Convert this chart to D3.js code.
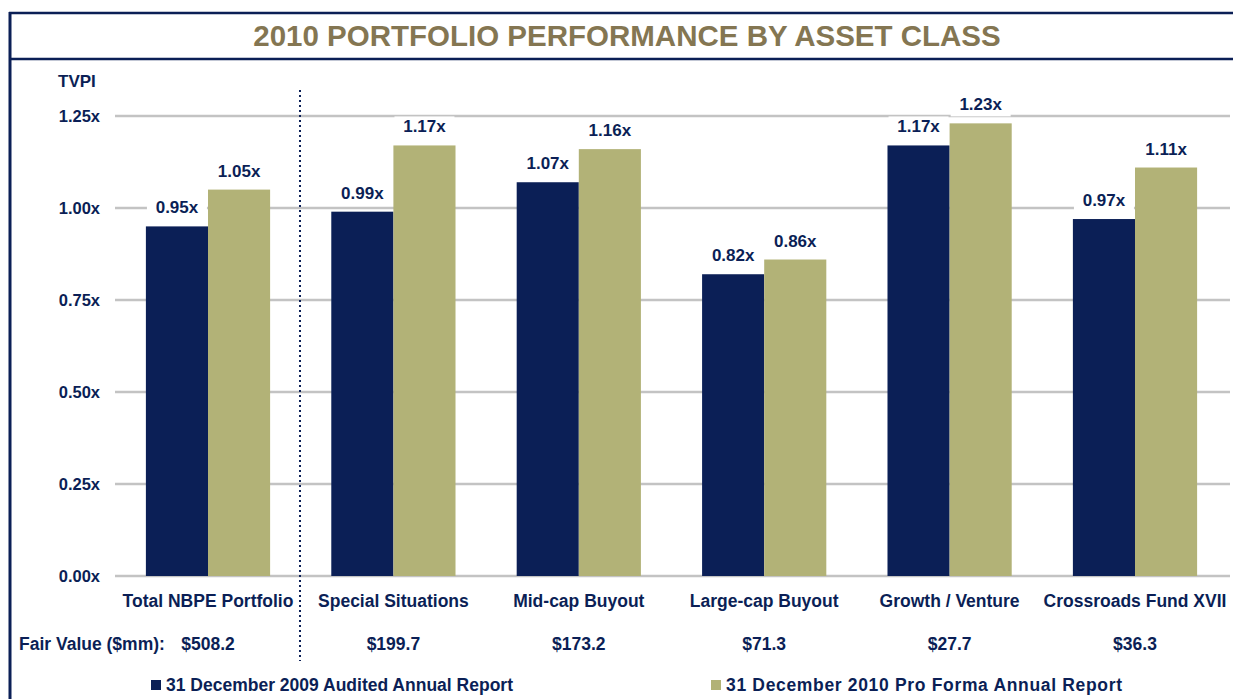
<!DOCTYPE html>
<html>
<head>
<meta charset="utf-8">
<script src="https://cdn.jsdelivr.net/npm/d3@7"></script>
<style>
  body { margin:0; background:#fff; }
  svg text { font-family: "Liberation Sans", Arial, sans-serif; font-weight:bold; }
</style>
</head>
<body>
<svg id="chart" width="1233" height="699"></svg>
<script>
// -- data
var categories = ["Total NBPE Portfolio","Special Situations","Mid-cap Buyout","Large-cap Buyout","Growth / Venture","Crossroads Fund XVII"];
var audited2009 = [0.95, 0.99, 1.07, 0.82, 1.17, 0.97];
var proForma2010 = [1.05, 1.17, 1.16, 0.86, 1.23, 1.11];
var fairValues = ["$508.2","$199.7","$173.2","$71.3","$27.7","$36.3"];
var seriesNames = ["31 December 2009 Audited Annual Report","31 December 2010 Pro Forma Annual Report"];
var yTicks = [0, 0.25, 0.5, 0.75, 1.0, 1.25];

var navy = "#0b1f56", khaki = "#b2b277", titleColor = "#847652", grid = "#c3c3c3";

var svg = d3.select("#chart");

// -- frame + title
svg.append("line").attr("x1",10).attr("x2",10).attr("y1",12).attr("y2",699).style("stroke",navy).style("stroke-width",3);
svg.append("line").attr("x1",9).attr("x2",1233).attr("y1",13).attr("y2",13).style("stroke",navy).style("stroke-width",2.5);
svg.append("line").attr("x1",9).attr("x2",1233).attr("y1",59).attr("y2",59).style("stroke",navy).style("stroke-width",2.5);
svg.append("text").attr("x",627).attr("y",46).attr("text-anchor","middle")
    .style("font-size","29.5px").style("fill",titleColor)
    .text("2010 PORTFOLIO PERFORMANCE BY ASSET CLASS");

// -- scales
var y = d3.scaleLinear().domain([0,1.25]).range([576,116]);
var x0 = d3.scaleBand().domain(categories).range([115.3,1227.7]).paddingInner(0.33).paddingOuter(0.165);
var x1 = d3.scaleBand().domain([0,1]).range([0,x0.bandwidth()]);

// -- gridlines + ticks
var yAxis = d3.axisLeft(y).tickValues(yTicks).tickSize(0).tickPadding(15)
    .tickFormat(function(d){return d3.format(".2f")(d)+"x";});
var gAxis = svg.append("g").attr("transform","translate(115,0)").call(yAxis);
gAxis.select(".domain").remove();
gAxis.selectAll("text").attr("font-family",null).attr("font-size",null)
    .style("font-size","16.5px").style("fill",navy);

svg.selectAll(".gridline").data(yTicks).enter().append("line").attr("class","gridline")
    .attr("x1",115).attr("x2",1230)
    .attr("y1",function(d){return y(d);}).attr("y2",function(d){return y(d);})
    .style("stroke",grid).style("stroke-width",2.5);

svg.append("text").attr("x",58).attr("y",87).style("font-size","17px").style("fill",navy).text("TVPI");

// -- divider
svg.append("line").attr("x1",300).attr("x2",300).attr("y1",90).attr("y2",661)
    .style("stroke",navy).style("stroke-width",2).style("stroke-dasharray","2,3");

// -- bars
var rows = categories.map(function(c,i){ return {cat:c, vals:[audited2009[i], proForma2010[i]]}; });
var groups = svg.selectAll(".grp").data(rows).enter().append("g").attr("class","grp")
    .attr("transform",function(d){return "translate("+x0(d.cat)+",0)";});

groups.selectAll("rect").data(function(d){return d.vals;}).enter().append("rect")
    .attr("x",function(d,i){return x1(i);})
    .attr("y",function(d){return y(d);})
    .attr("width",x1.bandwidth())
    .attr("height",function(d){return y(0)-y(d);})
    .style("fill",function(d,i){return i==0?navy:khaki;});

// value labels with white box behind
var lbl = groups.selectAll(".val").data(function(d){return d.vals;}).enter().append("g").attr("class","val")
    .attr("transform",function(d,i){return "translate("+(x1(i)+x1.bandwidth()/2)+","+(y(d)-13)+")";});
lbl.append("rect").attr("x",-30).attr("y",-16).attr("width",60).attr("height",22).style("fill","#fff");
lbl.append("text").attr("text-anchor","middle").style("font-size","17px").style("fill",navy)
    .text(function(d){return d3.format(".2f")(d)+"x";});

// -- category labels + fair values
svg.selectAll(".cat").data(categories).enter().append("text").attr("class","cat")
    .attr("x",function(d){return x0(d)+x0.bandwidth()/2;}).attr("y",607)
    .attr("text-anchor","middle").style("font-size","17.5px").style("fill",navy)
    .text(function(d){return d;});

svg.append("text").attr("x",19).attr("y",650).style("font-size","17.5px").style("fill",navy).text("Fair Value ($mm):");
svg.selectAll(".fv").data(fairValues).enter().append("text").attr("class","fv")
    .attr("x",function(d,i){return x0(categories[i])+x0.bandwidth()/2;}).attr("y",650)
    .attr("text-anchor","middle").style("font-size","17.5px").style("fill",navy)
    .text(function(d){return d;});

// -- legend
var legX = [151, 711];
var legW = [347, 396]; // second label is spread wider in the original
var leg = svg.selectAll(".leg").data(seriesNames).enter().append("g").attr("class","leg")
    .attr("transform",function(d,i){return "translate("+legX[i]+",680)";});
leg.append("rect").attr("width",10).attr("height",10).style("fill",function(d,i){return i==0?navy:khaki;});
leg.append("text").attr("x",15).attr("y",11).style("font-size","17.5px").style("fill",navy)
    .attr("textLength",function(d,i){return legW[i];}).attr("lengthAdjust","spacing")
    .text(function(d){return d;});
</script>
</body>
</html>
